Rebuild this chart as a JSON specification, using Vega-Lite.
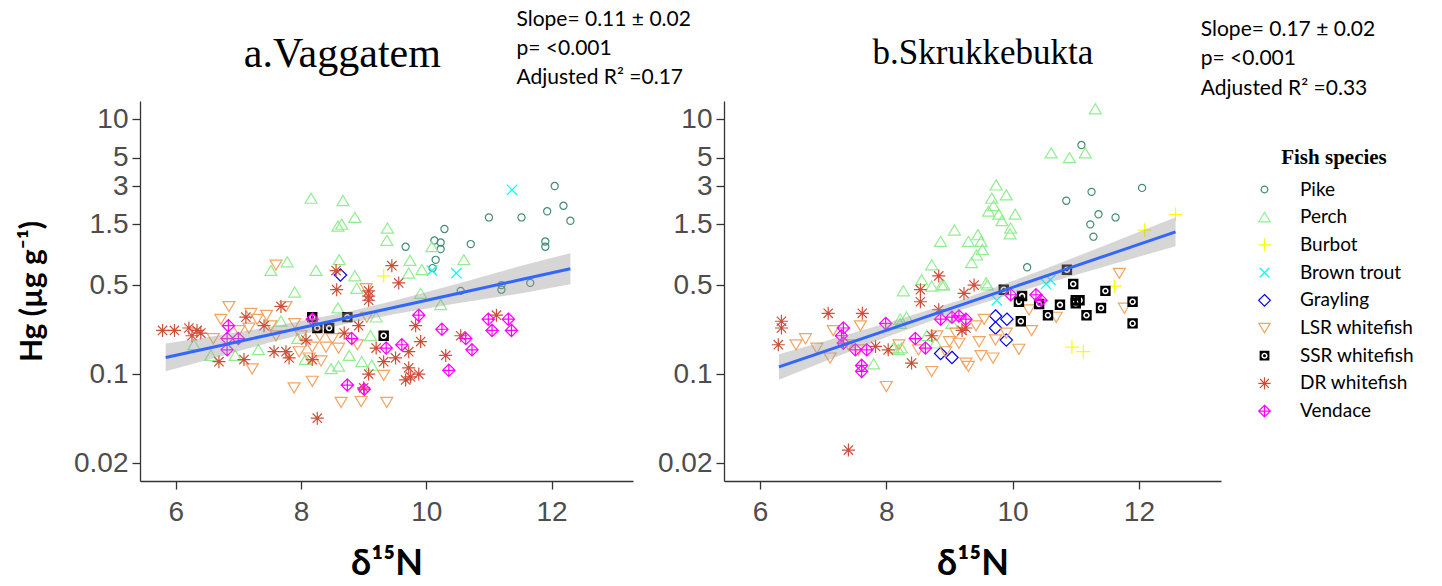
{
  "$schema": "https://vega.github.io/schema/vega-lite/v6.json",
  "padding": {"left": 17, "top": 8, "right": 5, "bottom": 0},
  "bounds": "flush",
  "spacing": 91,
  "datasets": {
    "vag": [
      {"species":"Pike","d15N":12.05,"Hg":3.0},{"species":"Pike","d15N":12.19,"Hg":2.1},{"species":"Pike","d15N":11.93,"Hg":1.9},{"species":"Pike","d15N":12.3,"Hg":1.6},{"species":"Pike","d15N":11.52,"Hg":1.7},{"species":"Pike","d15N":11.0,"Hg":1.7},{"species":"Pike","d15N":11.9,"Hg":1.1},{"species":"Pike","d15N":11.9,"Hg":1.0},{"species":"Pike","d15N":10.29,"Hg":1.38},{"species":"Pike","d15N":10.13,"Hg":1.12},{"species":"Pike","d15N":10.23,"Hg":1.08},{"species":"Pike","d15N":10.23,"Hg":0.96},{"species":"Pike","d15N":10.15,"Hg":0.79},{"species":"Pike","d15N":10.1,"Hg":0.68},{"species":"Pike","d15N":9.67,"Hg":1.0},{"species":"Pike","d15N":10.71,"Hg":1.05},{"species":"Pike","d15N":10.55,"Hg":0.45},{"species":"Pike","d15N":11.2,"Hg":0.46},{"species":"Pike","d15N":11.66,"Hg":0.52},{"species":"Pike","d15N":11.2,"Hg":0.5},
      {"species":"Brown trout","d15N":11.37,"Hg":2.8},{"species":"Brown trout","d15N":10.48,"Hg":0.62},{"species":"Brown trout","d15N":10.09,"Hg":0.65},
      {"species":"Burbot","d15N":9.32,"Hg":0.59},
      {"species":"Grayling","d15N":8.63,"Hg":0.6},
      {"species":"Perch","d15N":8.16,"Hg":2.4},{"species":"Perch","d15N":8.67,"Hg":2.3},{"species":"Perch","d15N":8.86,"Hg":1.7},{"species":"Perch","d15N":8.59,"Hg":1.45},{"species":"Perch","d15N":8.65,"Hg":1.5},{"species":"Perch","d15N":9.38,"Hg":1.4},{"species":"Perch","d15N":9.37,"Hg":1.12},{"species":"Perch","d15N":10.09,"Hg":1.0},{"species":"Perch","d15N":10.6,"Hg":0.79},{"species":"Perch","d15N":9.74,"Hg":0.78},{"species":"Perch","d15N":9.72,"Hg":0.62},{"species":"Perch","d15N":9.93,"Hg":0.66},{"species":"Perch","d15N":8.86,"Hg":0.59},{"species":"Perch","d15N":8.61,"Hg":0.79},{"species":"Perch","d15N":8.24,"Hg":0.65},{"species":"Perch","d15N":7.78,"Hg":0.76},{"species":"Perch","d15N":7.52,"Hg":0.65},{"species":"Perch","d15N":7.9,"Hg":0.44},{"species":"Perch","d15N":8.89,"Hg":0.47},{"species":"Perch","d15N":9.91,"Hg":0.43},{"species":"Perch","d15N":10.23,"Hg":0.35},{"species":"Perch","d15N":8.59,"Hg":0.33},{"species":"Perch","d15N":9.2,"Hg":0.28},{"species":"Perch","d15N":6.29,"Hg":0.17},{"species":"Perch","d15N":6.56,"Hg":0.14},{"species":"Perch","d15N":6.95,"Hg":0.14},{"species":"Perch","d15N":7.32,"Hg":0.155},{"species":"Perch","d15N":7.68,"Hg":0.26},{"species":"Perch","d15N":7.95,"Hg":0.19},{"species":"Perch","d15N":8.07,"Hg":0.13},{"species":"Perch","d15N":8.48,"Hg":0.11},{"species":"Perch","d15N":8.6,"Hg":0.115},{"species":"Perch","d15N":8.77,"Hg":0.14},{"species":"Perch","d15N":8.97,"Hg":0.125},{"species":"Perch","d15N":9.11,"Hg":0.2},{"species":"Perch","d15N":9.13,"Hg":0.117},
      {"species":"LSR whitefish","d15N":6.85,"Hg":0.34},{"species":"LSR whitefish","d15N":6.72,"Hg":0.27},{"species":"LSR whitefish","d15N":7.2,"Hg":0.3},{"species":"LSR whitefish","d15N":7.3,"Hg":0.27},{"species":"LSR whitefish","d15N":7.17,"Hg":0.23},{"species":"LSR whitefish","d15N":7.52,"Hg":0.24},{"species":"LSR whitefish","d15N":7.76,"Hg":0.34},{"species":"LSR whitefish","d15N":7.01,"Hg":0.22},{"species":"LSR whitefish","d15N":7.22,"Hg":0.11},{"species":"LSR whitefish","d15N":7.97,"Hg":0.15},{"species":"LSR whitefish","d15N":8.18,"Hg":0.163},{"species":"LSR whitefish","d15N":8.4,"Hg":0.163},{"species":"LSR whitefish","d15N":8.6,"Hg":0.16},{"species":"LSR whitefish","d15N":8.32,"Hg":0.127},{"species":"LSR whitefish","d15N":8.13,"Hg":0.134},{"species":"LSR whitefish","d15N":7.89,"Hg":0.078},{"species":"LSR whitefish","d15N":8.18,"Hg":0.088},{"species":"LSR whitefish","d15N":8.64,"Hg":0.06},{"species":"LSR whitefish","d15N":8.96,"Hg":0.061},{"species":"LSR whitefish","d15N":9.37,"Hg":0.06},{"species":"LSR whitefish","d15N":9.32,"Hg":0.098},{"species":"LSR whitefish","d15N":9.05,"Hg":0.28},{"species":"LSR whitefish","d15N":7.6,"Hg":0.72},{"species":"LSR whitefish","d15N":9.04,"Hg":0.47},{"species":"LSR whitefish","d15N":7.45,"Hg":0.29},{"species":"LSR whitefish","d15N":7.9,"Hg":0.25},{"species":"LSR whitefish","d15N":8.0,"Hg":0.2},{"species":"LSR whitefish","d15N":8.3,"Hg":0.2},{"species":"LSR whitefish","d15N":8.5,"Hg":0.19},{"species":"LSR whitefish","d15N":7.6,"Hg":0.2},{"species":"LSR whitefish","d15N":6.6,"Hg":0.19},{"species":"LSR whitefish","d15N":8.9,"Hg":0.17},
      {"species":"SSR whitefish","d15N":8.18,"Hg":0.28},{"species":"SSR whitefish","d15N":8.26,"Hg":0.23},{"species":"SSR whitefish","d15N":8.45,"Hg":0.23},{"species":"SSR whitefish","d15N":8.74,"Hg":0.28},{"species":"SSR whitefish","d15N":9.32,"Hg":0.2},
      {"species":"DR whitefish","d15N":5.79,"Hg":0.22},{"species":"DR whitefish","d15N":5.98,"Hg":0.22},{"species":"DR whitefish","d15N":6.21,"Hg":0.23},{"species":"DR whitefish","d15N":6.26,"Hg":0.2},{"species":"DR whitefish","d15N":6.34,"Hg":0.22},{"species":"DR whitefish","d15N":6.69,"Hg":0.125},{"species":"DR whitefish","d15N":7.12,"Hg":0.28},{"species":"DR whitefish","d15N":7.09,"Hg":0.13},{"species":"DR whitefish","d15N":7.41,"Hg":0.24},{"species":"DR whitefish","d15N":7.68,"Hg":0.34},{"species":"DR whitefish","d15N":7.57,"Hg":0.15},{"species":"DR whitefish","d15N":7.76,"Hg":0.15},{"species":"DR whitefish","d15N":7.81,"Hg":0.134},{"species":"DR whitefish","d15N":8.08,"Hg":0.185},{"species":"DR whitefish","d15N":8.18,"Hg":0.13},{"species":"DR whitefish","d15N":8.69,"Hg":0.21},{"species":"DR whitefish","d15N":8.92,"Hg":0.24},{"species":"DR whitefish","d15N":9.08,"Hg":0.38},{"species":"DR whitefish","d15N":9.08,"Hg":0.1},{"species":"DR whitefish","d15N":9.0,"Hg":0.078},{"species":"DR whitefish","d15N":9.2,"Hg":0.16},{"species":"DR whitefish","d15N":9.32,"Hg":0.125},{"species":"DR whitefish","d15N":9.51,"Hg":0.134},{"species":"DR whitefish","d15N":9.72,"Hg":0.15},{"species":"DR whitefish","d15N":9.72,"Hg":0.112},{"species":"DR whitefish","d15N":9.83,"Hg":0.24},{"species":"DR whitefish","d15N":9.91,"Hg":0.18},{"species":"DR whitefish","d15N":9.88,"Hg":0.1},{"species":"DR whitefish","d15N":9.67,"Hg":0.09},{"species":"DR whitefish","d15N":10.31,"Hg":0.14},{"species":"DR whitefish","d15N":10.55,"Hg":0.2},{"species":"DR whitefish","d15N":11.12,"Hg":0.29},{"species":"DR whitefish","d15N":8.26,"Hg":0.045},{"species":"DR whitefish","d15N":8.57,"Hg":0.46},{"species":"DR whitefish","d15N":8.56,"Hg":0.65},{"species":"DR whitefish","d15N":9.45,"Hg":0.71},{"species":"DR whitefish","d15N":9.56,"Hg":0.52},{"species":"DR whitefish","d15N":9.08,"Hg":0.45},{"species":"DR whitefish","d15N":9.08,"Hg":0.41},{"species":"DR whitefish","d15N":6.4,"Hg":0.21},{"species":"DR whitefish","d15N":9.75,"Hg":0.095},
      {"species":"Vendace","d15N":6.84,"Hg":0.24},{"species":"Vendace","d15N":6.82,"Hg":0.19},{"species":"Vendace","d15N":7.0,"Hg":0.19},{"species":"Vendace","d15N":6.82,"Hg":0.155},{"species":"Vendace","d15N":8.18,"Hg":0.27},{"species":"Vendace","d15N":8.81,"Hg":0.19},{"species":"Vendace","d15N":9.36,"Hg":0.16},{"species":"Vendace","d15N":9.61,"Hg":0.17},{"species":"Vendace","d15N":9.88,"Hg":0.29},{"species":"Vendace","d15N":10.25,"Hg":0.225},{"species":"Vendace","d15N":10.63,"Hg":0.19},{"species":"Vendace","d15N":10.73,"Hg":0.155},{"species":"Vendace","d15N":10.99,"Hg":0.27},{"species":"Vendace","d15N":11.05,"Hg":0.22},{"species":"Vendace","d15N":11.31,"Hg":0.27},{"species":"Vendace","d15N":11.36,"Hg":0.22},{"species":"Vendace","d15N":10.36,"Hg":0.107},{"species":"Vendace","d15N":8.74,"Hg":0.082},{"species":"Vendace","d15N":9.01,"Hg":0.076}
    ],
    "skr": [
      {"species":"Perch","d15N":11.31,"Hg":12.1},{"species":"Perch","d15N":10.61,"Hg":5.45},{"species":"Perch","d15N":10.9,"Hg":5.0},{"species":"Perch","d15N":11.15,"Hg":5.45},{"species":"Perch","d15N":9.74,"Hg":3.05},{"species":"Perch","d15N":9.9,"Hg":2.55},{"species":"Perch","d15N":9.67,"Hg":2.4},{"species":"Perch","d15N":9.7,"Hg":2.1},{"species":"Perch","d15N":9.62,"Hg":1.9},{"species":"Perch","d15N":9.78,"Hg":1.8},{"species":"Perch","d15N":9.83,"Hg":1.6},{"species":"Perch","d15N":10.04,"Hg":1.8},{"species":"Perch","d15N":9.97,"Hg":1.4},{"species":"Perch","d15N":9.96,"Hg":1.26},{"species":"Perch","d15N":9.08,"Hg":1.35},{"species":"Perch","d15N":8.86,"Hg":1.1},{"species":"Perch","d15N":9.3,"Hg":1.1},{"species":"Perch","d15N":9.45,"Hg":1.24},{"species":"Perch","d15N":9.5,"Hg":1.1},{"species":"Perch","d15N":9.52,"Hg":0.95},{"species":"Perch","d15N":9.43,"Hg":0.86},{"species":"Perch","d15N":9.35,"Hg":0.75},{"species":"Perch","d15N":8.72,"Hg":0.72},{"species":"Perch","d15N":8.56,"Hg":0.55},{"species":"Perch","d15N":8.91,"Hg":0.5},{"species":"Perch","d15N":8.72,"Hg":0.49},{"species":"Perch","d15N":8.27,"Hg":0.45},{"species":"Perch","d15N":9.58,"Hg":0.52},{"species":"Perch","d15N":8.22,"Hg":0.27},{"species":"Perch","d15N":8.32,"Hg":0.28},{"species":"Perch","d15N":8.22,"Hg":0.25},{"species":"Perch","d15N":8.11,"Hg":0.16},{"species":"Perch","d15N":8.24,"Hg":0.16},{"species":"Perch","d15N":7.8,"Hg":0.12},{"species":"Perch","d15N":8.64,"Hg":0.2},{"species":"Perch","d15N":8.78,"Hg":0.175},{"species":"Perch","d15N":8.88,"Hg":0.5},{"species":"Perch","d15N":9.04,"Hg":0.25},{"species":"Perch","d15N":9.6,"Hg":0.5},{"species":"Perch","d15N":8.19,"Hg":0.155},
      {"species":"Pike","d15N":11.09,"Hg":6.3},{"species":"Pike","d15N":11.25,"Hg":2.7},{"species":"Pike","d15N":12.05,"Hg":2.9},{"species":"Pike","d15N":10.85,"Hg":2.3},{"species":"Pike","d15N":11.36,"Hg":1.8},{"species":"Pike","d15N":11.63,"Hg":1.7},{"species":"Pike","d15N":11.23,"Hg":1.5},{"species":"Pike","d15N":11.28,"Hg":1.2},{"species":"Pike","d15N":10.23,"Hg":0.69},
      {"species":"Burbot","d15N":12.58,"Hg":1.8},{"species":"Burbot","d15N":12.09,"Hg":1.35},{"species":"Burbot","d15N":11.61,"Hg":0.49},{"species":"Burbot","d15N":10.94,"Hg":0.163},{"species":"Burbot","d15N":11.12,"Hg":0.15},
      {"species":"Brown trout","d15N":10.53,"Hg":0.51},{"species":"Brown trout","d15N":9.75,"Hg":0.38},{"species":"Brown trout","d15N":10.6,"Hg":0.55},
      {"species":"Grayling","d15N":9.73,"Hg":0.286},{"species":"Grayling","d15N":9.91,"Hg":0.27},{"species":"Grayling","d15N":9.73,"Hg":0.23},{"species":"Grayling","d15N":9.9,"Hg":0.185},{"species":"Grayling","d15N":8.86,"Hg":0.145},{"species":"Grayling","d15N":9.04,"Hg":0.135},
      {"species":"LSR whitefish","d15N":11.69,"Hg":0.62},{"species":"LSR whitefish","d15N":11.77,"Hg":0.33},{"species":"LSR whitefish","d15N":10.3,"Hg":0.22},{"species":"LSR whitefish","d15N":10.1,"Hg":0.157},{"species":"LSR whitefish","d15N":9.69,"Hg":0.134},{"species":"LSR whitefish","d15N":10.26,"Hg":0.32},{"species":"LSR whitefish","d15N":10.69,"Hg":0.28},{"species":"LSR whitefish","d15N":9.5,"Hg":0.14},{"species":"LSR whitefish","d15N":9.3,"Hg":0.115},{"species":"LSR whitefish","d15N":9.26,"Hg":0.122},{"species":"LSR whitefish","d15N":8.72,"Hg":0.105},{"species":"LSR whitefish","d15N":8.0,"Hg":0.08},{"species":"LSR whitefish","d15N":9.73,"Hg":0.186},{"species":"LSR whitefish","d15N":9.47,"Hg":0.18},{"species":"LSR whitefish","d15N":9.15,"Hg":0.175},{"species":"LSR whitefish","d15N":9.0,"Hg":0.18},{"species":"LSR whitefish","d15N":9.42,"Hg":0.24},{"species":"LSR whitefish","d15N":9.55,"Hg":0.27},{"species":"LSR whitefish","d15N":8.51,"Hg":0.155},{"species":"LSR whitefish","d15N":7.56,"Hg":0.155},{"species":"LSR whitefish","d15N":7.16,"Hg":0.22},{"species":"LSR whitefish","d15N":6.72,"Hg":0.19},{"species":"LSR whitefish","d15N":6.57,"Hg":0.17},{"species":"LSR whitefish","d15N":6.9,"Hg":0.16},{"species":"LSR whitefish","d15N":7.11,"Hg":0.134},{"species":"LSR whitefish","d15N":7.59,"Hg":0.24},{"species":"LSR whitefish","d15N":8.94,"Hg":0.15},{"species":"LSR whitefish","d15N":7.4,"Hg":0.17},{"species":"LSR whitefish","d15N":8.2,"Hg":0.17},{"species":"LSR whitefish","d15N":8.8,"Hg":0.2},{"species":"LSR whitefish","d15N":9.1,"Hg":0.21},{"species":"LSR whitefish","d15N":9.9,"Hg":0.21},
      {"species":"SSR whitefish","d15N":10.86,"Hg":0.66},{"species":"SSR whitefish","d15N":10.96,"Hg":0.51},{"species":"SSR whitefish","d15N":11.0,"Hg":0.38},{"species":"SSR whitefish","d15N":11.06,"Hg":0.38},{"species":"SSR whitefish","d15N":11.0,"Hg":0.36},{"species":"SSR whitefish","d15N":11.47,"Hg":0.45},{"species":"SSR whitefish","d15N":11.9,"Hg":0.37},{"species":"SSR whitefish","d15N":11.9,"Hg":0.25},{"species":"SSR whitefish","d15N":11.4,"Hg":0.33},{"species":"SSR whitefish","d15N":11.17,"Hg":0.29},{"species":"SSR whitefish","d15N":10.75,"Hg":0.35},{"species":"SSR whitefish","d15N":10.56,"Hg":0.29},{"species":"SSR whitefish","d15N":10.42,"Hg":0.355},{"species":"SSR whitefish","d15N":10.15,"Hg":0.41},{"species":"SSR whitefish","d15N":10.1,"Hg":0.37},{"species":"SSR whitefish","d15N":10.13,"Hg":0.26},{"species":"SSR whitefish","d15N":9.86,"Hg":0.46},
      {"species":"DR whitefish","d15N":6.34,"Hg":0.23},{"species":"DR whitefish","d15N":6.29,"Hg":0.17},{"species":"DR whitefish","d15N":7.08,"Hg":0.3},{"species":"DR whitefish","d15N":7.62,"Hg":0.3},{"species":"DR whitefish","d15N":8.54,"Hg":0.46},{"species":"DR whitefish","d15N":8.83,"Hg":0.59},{"species":"DR whitefish","d15N":8.54,"Hg":0.37},{"species":"DR whitefish","d15N":8.83,"Hg":0.32},{"species":"DR whitefish","d15N":9.23,"Hg":0.43},{"species":"DR whitefish","d15N":9.39,"Hg":0.5},{"species":"DR whitefish","d15N":9.26,"Hg":0.23},{"species":"DR whitefish","d15N":8.4,"Hg":0.122},{"species":"DR whitefish","d15N":8.03,"Hg":0.155},{"species":"DR whitefish","d15N":7.83,"Hg":0.165},{"species":"DR whitefish","d15N":8.72,"Hg":0.2},{"species":"DR whitefish","d15N":7.4,"Hg":0.0253},{"species":"DR whitefish","d15N":9.2,"Hg":0.22},{"species":"DR whitefish","d15N":6.34,"Hg":0.26},
      {"species":"Vendace","d15N":7.32,"Hg":0.23},{"species":"Vendace","d15N":7.29,"Hg":0.2},{"species":"Vendace","d15N":7.32,"Hg":0.175},{"species":"Vendace","d15N":7.61,"Hg":0.117},{"species":"Vendace","d15N":7.61,"Hg":0.105},{"species":"Vendace","d15N":7.99,"Hg":0.25},{"species":"Vendace","d15N":7.69,"Hg":0.155},{"species":"Vendace","d15N":7.51,"Hg":0.155},{"species":"Vendace","d15N":8.46,"Hg":0.19},{"species":"Vendace","d15N":8.62,"Hg":0.16},{"species":"Vendace","d15N":8.86,"Hg":0.27},{"species":"Vendace","d15N":9.15,"Hg":0.286},{"species":"Vendace","d15N":9.26,"Hg":0.27},{"species":"Vendace","d15N":9.04,"Hg":0.28},{"species":"Vendace","d15N":10.37,"Hg":0.42},{"species":"Vendace","d15N":10.45,"Hg":0.38},{"species":"Vendace","d15N":9.97,"Hg":0.42}
    ],
    "vagFit": [
      {"d15N":5.84,"Hg":0.135,"lo":0.105,"hi":0.174},
      {"d15N":6.5,"Hg":0.159,"lo":0.129,"hi":0.195},
      {"d15N":7.5,"Hg":0.2037,"lo":0.1768,"hi":0.2347},
      {"d15N":8.7,"Hg":0.2748,"lo":0.2477,"hi":0.3048},
      {"d15N":9.5,"Hg":0.335,"lo":0.2965,"hi":0.3784},
      {"d15N":10.5,"Hg":0.4295,"lo":0.3593,"hi":0.5134},
      {"d15N":11.5,"Hg":0.5509,"lo":0.4296,"hi":0.7063},
      {"d15N":12.3,"Hg":0.673,"lo":0.508,"hi":0.891}
    ],
    "skrFit": [
      {"d15N":6.3,"Hg":0.1138,"lo":0.0904,"hi":0.1432},
      {"d15N":7.0,"Hg":0.1494,"lo":0.1242,"hi":0.1797},
      {"d15N":8.0,"Hg":0.2205,"lo":0.1942,"hi":0.2503},
      {"d15N":9.2,"Hg":0.3516,"lo":0.3207,"hi":0.3855},
      {"d15N":10.5,"Hg":0.5831,"lo":0.5109,"hi":0.6655},
      {"d15N":11.5,"Hg":0.8605,"lo":0.7108,"hi":1.042},
      {"d15N":12.58,"Hg":1.31,"lo":1.008,"hi":1.703}
    ],
    "vagNote": [
      {"d15N":11.44,"Hg":60.5,"label":"Slope= 0.11 ± 0.02"},
      {"d15N":11.44,"Hg":35.8,"label":"p= <0.001"},
      {"d15N":11.44,"Hg":21.2,"label":"Adjusted R² =0.17"}
    ],
    "skrNote": [
      {"d15N":12.98,"Hg":50.5,"label":"Slope= 0.17 ± 0.02"},
      {"d15N":12.98,"Hg":29.9,"label":"p= <0.001"},
      {"d15N":12.98,"Hg":17.4,"label":"Adjusted R² =0.33"}
    ],
    "vagTitle": [{"d15N":8.66,"Hg":32.7,"label":"a.Vaggatem"}],
    "skrTitle": [{"d15N":9.53,"Hg":33.0,"label":"b.Skrukkebukta"}]
  },
  "hconcat": [
    {
      "width": 493,
      "height": 380,
      "layer": [
        {
          "data": {"name": "vag"},
          "mark": {"type": "point", "size": 169, "strokeWidth": 1.2, "opacity": 1},
          "encoding": {
            "x": {"field": "d15N", "type": "quantitative", "title": "δ¹⁵N", "scale": {"domain": [5.43, 13.3], "nice": false, "zero": false}, "axis": {"values": [6, 8, 10, 12], "format": "~g"}},
            "y": {"field": "Hg", "type": "quantitative", "title": "Hg (µg g⁻¹)", "scale": {"type": "log", "domain": [0.01445, 13.97], "nice": false}, "axis": {"values": [0.02, 0.1, 0.5, 1.5, 3, 5, 10], "format": "~g"}},
            "shape": {"field": "species", "type": "nominal", "scale": {"domain": ["Pike","Perch","Burbot","Brown trout","Grayling","LSR whitefish","SSR whitefish","DR whitefish","Vendace"], "range": ["M0.55,0A0.55,0.55 0 1 1 -0.55,0A0.55,0.55 0 1 1 0.55,0Z","M0,-0.8L0.92,0.75L-0.92,0.75Z","M-1.05,0H1.05M0,-1.05V1.05","M-0.8,-0.8L0.8,0.8M-0.8,0.8L0.8,-0.8","M0,-0.95L0.95,0L0,0.95L-0.95,0Z","M0,0.8L0.92,-0.75L-0.92,-0.75Z","M-0.8,-0.8H0.8V0.8H-0.8Z M0.5,0A0.5,0.5 0 1 0 -0.5,0A0.5,0.5 0 1 0 0.5,0Z M0.25,0A0.25,0.25 0 1 1 -0.25,0A0.25,0.25 0 1 1 0.25,0Z","M-1,0H1M0,-1V1M-0.72,-0.72L0.72,0.72M-0.72,0.72L0.72,-0.72","M0,-0.95L0.95,0L0,0.95L-0.95,0ZM0,-0.95V0.95M-0.95,0H0.95"]}, "legend": {"title": "Fish species", "orient": "none", "legendX": 1115, "legendY": 46}},
            "stroke": {"field": "species", "type": "nominal", "scale": {"domain": ["Pike","Perch","Burbot","Brown trout","Grayling","LSR whitefish","SSR whitefish","DR whitefish","Vendace"], "range": ["#458B74","#90EE90","#FFFF00","#00FFFF","#0000FF","#F4A460","transparent","#CD4F39","#FF00FF"]}, "legend": {"title": "Fish species", "orient": "none", "legendX": 1115, "legendY": 46}},
            "fill": {"field": "species", "type": "nominal", "scale": {"domain": ["Pike","Perch","Burbot","Brown trout","Grayling","LSR whitefish","SSR whitefish","DR whitefish","Vendace"], "range": ["transparent","transparent","transparent","transparent","transparent","transparent","#000000","transparent","transparent"]}, "legend": {"title": "Fish species", "orient": "none", "legendX": 1115, "legendY": 46}}
          }
        },
        {
          "data": {"name": "vagFit"},
          "mark": {"type": "area", "color": "#999999", "opacity": 0.4},
          "encoding": {
            "x": {"field": "d15N", "type": "quantitative", "title": "δ¹⁵N"},
            "y": {"field": "lo", "type": "quantitative", "title": "Hg (µg g⁻¹)"},
            "y2": {"field": "hi"}
          }
        },
        {
          "data": {"name": "vagFit"},
          "mark": {"type": "line", "color": "#3366FF", "strokeWidth": 3},
          "encoding": {
            "x": {"field": "d15N", "type": "quantitative", "title": "δ¹⁵N"},
            "y": {"field": "Hg", "type": "quantitative", "title": "Hg (µg g⁻¹)"}
          }
        },
        {
          "data": {"name": "vagNote"},
          "mark": {"type": "text", "align": "left", "baseline": "middle", "font": "Lato", "fontSize": 21, "color": "black"},
          "encoding": {
            "x": {"field": "d15N", "type": "quantitative", "title": "δ¹⁵N"},
            "y": {"field": "Hg", "type": "quantitative", "title": "Hg (µg g⁻¹)"},
            "text": {"field": "label"}
          }
        },
        {
          "data": {"name": "vagTitle"},
          "mark": {"type": "text", "align": "center", "baseline": "middle", "font": "Liberation Serif", "fontSize": 42, "color": "black"},
          "encoding": {
            "x": {"field": "d15N", "type": "quantitative", "title": "δ¹⁵N"},
            "y": {"field": "Hg", "type": "quantitative", "title": "Hg (µg g⁻¹)"},
            "text": {"field": "label"}
          }
        }
      ]
    },
    {
      "width": 497,
      "height": 380,
      "layer": [
        {
          "data": {"name": "skr"},
          "mark": {"type": "point", "size": 169, "strokeWidth": 1.2, "opacity": 1},
          "encoding": {
            "x": {"field": "d15N", "type": "quantitative", "title": "δ¹⁵N", "scale": {"domain": [5.43, 13.3], "nice": false, "zero": false}, "axis": {"values": [6, 8, 10, 12], "format": "~g"}},
            "y": {"field": "Hg", "type": "quantitative", "title": null, "scale": {"type": "log", "domain": [0.01445, 13.97], "nice": false}, "axis": {"values": [0.02, 0.1, 0.5, 1.5, 3, 5, 10], "format": "~g", "title": null}},
            "shape": {"field": "species", "type": "nominal", "scale": {"domain": ["Pike","Perch","Burbot","Brown trout","Grayling","LSR whitefish","SSR whitefish","DR whitefish","Vendace"], "range": ["M0.55,0A0.55,0.55 0 1 1 -0.55,0A0.55,0.55 0 1 1 0.55,0Z","M0,-0.8L0.92,0.75L-0.92,0.75Z","M-1.05,0H1.05M0,-1.05V1.05","M-0.8,-0.8L0.8,0.8M-0.8,0.8L0.8,-0.8","M0,-0.95L0.95,0L0,0.95L-0.95,0Z","M0,0.8L0.92,-0.75L-0.92,-0.75Z","M-0.8,-0.8H0.8V0.8H-0.8Z M0.5,0A0.5,0.5 0 1 0 -0.5,0A0.5,0.5 0 1 0 0.5,0Z M0.25,0A0.25,0.25 0 1 1 -0.25,0A0.25,0.25 0 1 1 0.25,0Z","M-1,0H1M0,-1V1M-0.72,-0.72L0.72,0.72M-0.72,0.72L0.72,-0.72","M0,-0.95L0.95,0L0,0.95L-0.95,0ZM0,-0.95V0.95M-0.95,0H0.95"]}, "legend": {"title": "Fish species", "orient": "none", "legendX": 1115, "legendY": 46}},
            "stroke": {"field": "species", "type": "nominal", "scale": {"domain": ["Pike","Perch","Burbot","Brown trout","Grayling","LSR whitefish","SSR whitefish","DR whitefish","Vendace"], "range": ["#458B74","#90EE90","#FFFF00","#00FFFF","#0000FF","#F4A460","transparent","#CD4F39","#FF00FF"]}, "legend": {"title": "Fish species", "orient": "none", "legendX": 1115, "legendY": 46}},
            "fill": {"field": "species", "type": "nominal", "scale": {"domain": ["Pike","Perch","Burbot","Brown trout","Grayling","LSR whitefish","SSR whitefish","DR whitefish","Vendace"], "range": ["transparent","transparent","transparent","transparent","transparent","transparent","#000000","transparent","transparent"]}, "legend": {"title": "Fish species", "orient": "none", "legendX": 1115, "legendY": 46}}
          }
        },
        {
          "data": {"name": "skrFit"},
          "mark": {"type": "area", "color": "#999999", "opacity": 0.4},
          "encoding": {
            "x": {"field": "d15N", "type": "quantitative", "title": "δ¹⁵N"},
            "y": {"field": "lo", "type": "quantitative", "title": null},
            "y2": {"field": "hi"}
          }
        },
        {
          "data": {"name": "skrFit"},
          "mark": {"type": "line", "color": "#3366FF", "strokeWidth": 3},
          "encoding": {
            "x": {"field": "d15N", "type": "quantitative", "title": "δ¹⁵N"},
            "y": {"field": "Hg", "type": "quantitative", "title": null}
          }
        },
        {
          "data": {"name": "skrNote"},
          "mark": {"type": "text", "align": "left", "baseline": "middle", "font": "Lato", "fontSize": 21, "color": "black"},
          "encoding": {
            "x": {"field": "d15N", "type": "quantitative", "title": "δ¹⁵N"},
            "y": {"field": "Hg", "type": "quantitative", "title": null},
            "text": {"field": "label"}
          }
        },
        {
          "data": {"name": "skrTitle"},
          "mark": {"type": "text", "align": "center", "baseline": "middle", "font": "Liberation Serif", "fontSize": 35, "color": "black"},
          "encoding": {
            "x": {"field": "d15N", "type": "quantitative", "title": "δ¹⁵N"},
            "y": {"field": "Hg", "type": "quantitative", "title": null},
            "text": {"field": "label"}
          }
        }
      ]
    }
  ],
  "config": {
    "view": {"stroke": null},
    "font": "Liberation Sans",
    "axis": {"grid": false, "domainColor": "#333333", "domainWidth": 1.3, "tickColor": "#333333", "tickWidth": 1.3, "tickSize": 8, "labelColor": "#4d4d4d", "labelFont": "Liberation Sans", "labelFontSize": 28, "labelOverlap": false, "labelFlush": false, "titleFont": "Lato", "titleFontWeight": "bold", "titleColor": "black"},
    "axisX": {"labelPadding": 9, "titleFontSize": 36, "titlePadding": 20},
    "axisY": {"labelPadding": 4, "titleFontSize": 30, "titlePadding": 26},
    "legend": {"titleFont": "Liberation Serif", "titleFontSize": 21, "titleFontWeight": "bold", "titleColor": "black", "titleAnchor": "middle", "titlePadding": 12, "labelFont": "Lato", "labelFontSize": 19, "labelColor": "black", "labelOffset": 26, "symbolSize": 150, "symbolStrokeWidth": 1.2, "rowPadding": 7.7, "padding": 0}
  }
}
